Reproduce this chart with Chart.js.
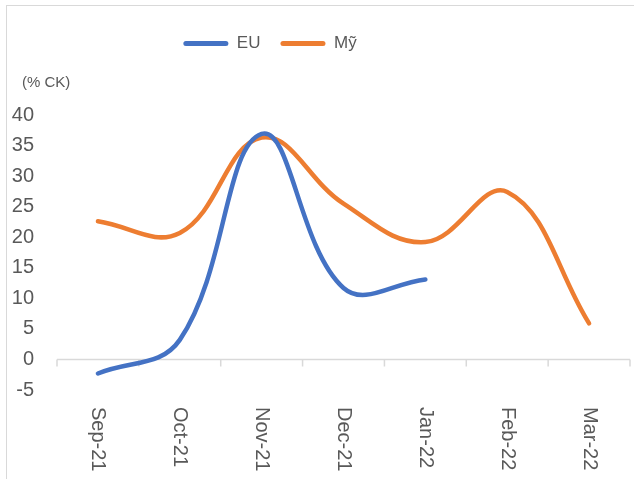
<!DOCTYPE html>
<html>
<head>
<meta charset="utf-8">
<script src="https://cdn.jsdelivr.net/npm/chart.js@4.4.0/dist/chart.umd.min.js"></script>
<style>
  html, body { margin: 0; padding: 0; background: #fff; overflow: hidden; }
  #wrap { position: relative; width: 634px; height: 479px; }
  #frame {
    position: absolute; left: 6px; top: 5px; right: -10px; bottom: -10px;
    border-left: 1.5px solid #d9d9d9; border-top: 1.5px solid #d9d9d9;
  }
  canvas { position: absolute; left: 0; top: 0; }
</style>
</head>
<body>
<div id="wrap">
  <div id="frame"></div>
  <canvas id="chart"></canvas>
</div>
<script>
const months = ['Sep-21', 'Oct-21', 'Nov-21', 'Dec-21', 'Jan-22', 'Feb-22', 'Mar-22'];
const euValues = [-2.3, 3.2, 36.9, 11.7, 13.1, null, null];
const usValues = [22.6, 20.7, 36.3, 25.5, 19.2, 27.4, 5.9];
const yMin = -5;
const yMax = 40;
const yStep = 5;
const unitLabel = '(% CK)';

const TEXT = '#595959';
const AXIS_LINE = '#d9d9d9';
const PAD_TOP = 15;
const PLOT_TOP = 115;

Chart.defaults.font.family = "'Liberation Sans', Arial, sans-serif";
Chart.defaults.color = TEXT;

// Legend sits a little left of centre and leaves room for the unit label below it.
const legendSpacer = {
  id: 'legendSpacer',
  beforeLayout(chart) {
    const legend = chart.legend;
    if (!legend || legend._spaced) return;
    const fit = legend.fit;
    legend.fit = function () {
      fit.call(this);
      this.height = PLOT_TOP - PAD_TOP;
    };
    legend._spaced = true;
  },
  afterLayout(chart) {
    chart.legend.left = 0;
    chart.legend.right = 540;
  },
};

// Category axis drawn across y = 0 with boundary ticks, labels rotated to read downward.
const zeroAxis = {
  id: 'zeroAxis',
  beforeDatasetsDraw(chart) {
    const { ctx, chartArea, scales: { x, y } } = chart;
    const y0 = y.getPixelForValue(0);
    ctx.save();
    ctx.strokeStyle = AXIS_LINE;
    ctx.lineWidth = 1.5;
    ctx.beginPath();
    ctx.moveTo(chartArea.left, y0);
    ctx.lineTo(chartArea.right, y0);
    for (let i = 0; i <= months.length; i++) {
      const px = x.getPixelForValue(i - 0.5);
      ctx.moveTo(px, y0);
      ctx.lineTo(px, y0 + 7);
    }
    ctx.stroke();
    ctx.restore();
  },
  afterDraw(chart) {
    const { ctx, chartArea, scales: { x, y } } = chart;
    ctx.save();
    ctx.fillStyle = TEXT;
    ctx.font = "20px 'Liberation Sans', Arial, sans-serif";
    ctx.textAlign = 'left';
    ctx.textBaseline = 'middle';
    months.forEach((label, i) => {
      ctx.save();
      ctx.translate(x.getPixelForValue(i), chartArea.bottom + 17);
      ctx.rotate(Math.PI / 2);
      ctx.fillText(label, 0, 0);
      ctx.restore();
    });
    ctx.font = "15px 'Liberation Sans', Arial, sans-serif";
    ctx.fillText(unitLabel, y.left + 22, chartArea.top - 32);
    ctx.restore();
  },
};

new Chart(document.getElementById('chart'), {
  type: 'line',
  data: {
    labels: months,
    datasets: [
      {
        label: 'EU',
        data: euValues,
        borderColor: '#4472C4',
        backgroundColor: '#4472C4',
      },
      {
        label: 'Mỹ',
        data: usValues,
        borderColor: '#ED7D31',
        backgroundColor: '#ED7D31',
      },
    ],
  },
  options: {
    responsive: true,
    maintainAspectRatio: false,
    animation: false,
    layout: { padding: { top: PAD_TOP, left: 0, right: 4, bottom: 0 } },
    elements: {
      line: { borderWidth: 4.5, tension: 0.4, borderCapStyle: 'round', fill: false },
      point: { radius: 0, hoverRadius: 0 },
    },
    plugins: {
      legend: {
        position: 'top',
        labels: {
          boxWidth: 45,
          boxHeight: 5,
          padding: 20,
          color: TEXT,
          font: { size: 17 },
          useBorderRadius: true,
          borderRadius: 2.5,
          generateLabels(chart) {
            return Chart.defaults.plugins.legend.labels.generateLabels(chart)
              .map((item) => ({ ...item, lineWidth: 0 }));
          },
        },
      },
      tooltip: { enabled: false },
    },
    scales: {
      x: {
        type: 'category',
        offset: true,
        grid: { display: false },
        border: { display: false },
        ticks: { display: false },
        afterFit(scale) { scale.height = 89; },
      },
      y: {
        min: yMin,
        max: yMax,
        grid: { display: false, drawTicks: false },
        border: { display: false },
        ticks: { stepSize: yStep, padding: 23, color: TEXT, font: { size: 20 } },
        afterFit(scale) { scale.width = 57; },
      },
    },
  },
  plugins: [legendSpacer, zeroAxis],
});
</script>
</body>
</html>
